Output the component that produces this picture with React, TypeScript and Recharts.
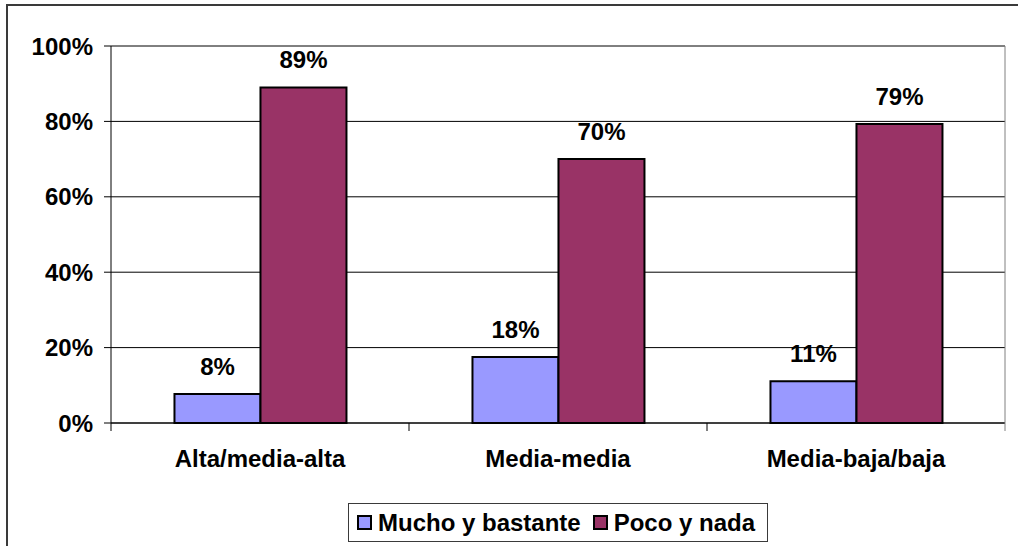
import React from "react";
import {
  BarChart,
  Bar,
  XAxis,
  YAxis,
  CartesianGrid,
  LabelList,
} from "recharts";

const categories = ["Alta/media-alta", "Media-media", "Media-baja/baja"];
const muchoValues = [0.077, 0.175, 0.111];
const pocoValues = [0.89, 0.70, 0.793];
const seriesNames = ["Mucho y bastante", "Poco y nada"];
const seriesColors = ["#9999FF", "#993366"];
const yTicks = [0, 0.2, 0.4, 0.6, 0.8, 1];

const data = categories.map((c, i) => ({
  name: c,
  mucho: muchoValues[i],
  poco: pocoValues[i],
}));

const FONT = "'Liberation Sans', Arial, sans-serif";
const FS = 24;

const pct = (v: number) => `${Math.round(v * 100)}%`;

const CategoryTick = (props: any) => {
  const { x, y, payload, index, visibleTicksCount } = props;
  const half =
    typeof payload?.offset === "number" && payload.offset > 0
      ? payload.offset
      : 0;
  const isLast =
    index === (visibleTicksCount ?? categories.length) - 1 ||
    payload.value === categories[categories.length - 1];
  return (
    <g>
      <line x1={x - half} x2={x - half} y1={y} y2={y + 8} stroke="#000" />
      {isLast && (
        <line x1={x + half} x2={x + half} y1={y} y2={y + 8} stroke="#808080" />
      )}
      <text
        x={x}
        y={y + 44}
        textAnchor="middle"
        fontFamily={FONT}
        fontSize={FS}
        fontWeight="bold"
        fill="#000"
      >
        {payload.value}
      </text>
    </g>
  );
};

const labelStyle = {
  fill: "#000",
  fontSize: FS,
  fontWeight: "bold",
  fontFamily: FONT,
};

export default function App() {
  return (
    <div
      style={{
        position: "relative",
        width: 1018,
        height: 546,
        overflow: "hidden",
        background: "#fff",
        fontFamily: FONT,
      }}
    >
      <style>{"body{margin:0;}"}</style>
      <div
        style={{
          position: "absolute",
          left: 6,
          top: 4,
          width: 1100,
          height: 700,
          border: "2px solid #3a3a3a",
          boxSizing: "border-box",
        }}
      />
      <div style={{ position: "absolute", left: 0, top: 0 }}>
        <BarChart
          width={1018}
          height={546}
          data={data}
          margin={{ top: 46, right: 12, left: 0, bottom: 63 }}
          barCategoryGap="21.3%"
          barGap={0}
        >
          <CartesianGrid
            vertical={false}
            stroke="#000"
            strokeWidth={1}
          />
          <XAxis
            dataKey="name"
            height={60}
            interval={0}
            tickSize={0}
            tickMargin={0}
            tickLine={false}
            axisLine={{ stroke: "#000" }}
            tick={<CategoryTick />}
          />
          <YAxis
            width={111}
            domain={[0, 1]}
            ticks={yTicks}
            interval={0}
            tickFormatter={pct}
            tickSize={7}
            tickMargin={11}
            axisLine={{ stroke: "#000" }}
            tickLine={{ stroke: "#000" }}
            tick={labelStyle}
          />
          <YAxis
            yAxisId="r"
            orientation="right"
            width={1}
            domain={[0, 1]}
            tick={false}
            tickLine={false}
            axisLine={{ stroke: "#808080" }}
          />
          <Bar
            dataKey="mucho"
            name={seriesNames[0]}
            fill={seriesColors[0]}
            stroke="#000"
            strokeWidth={2}
            isAnimationActive={false}
          >
            <LabelList
              dataKey="mucho"
              position="top"
              offset={19}
              formatter={(v: any) => pct(Number(v))}
              style={labelStyle}
            />
          </Bar>
          <Bar
            dataKey="poco"
            name={seriesNames[1]}
            fill={seriesColors[1]}
            stroke="#000"
            strokeWidth={2}
            isAnimationActive={false}
          >
            <LabelList
              dataKey="poco"
              position="top"
              offset={19}
              formatter={(v: any) => pct(Number(v))}
              style={labelStyle}
            />
          </Bar>
        </BarChart>
      </div>
      <div
        style={{
          position: "absolute",
          left: 348,
          top: 503,
          width: 420,
          height: 39,
          border: "1.5px solid #3a3a3a",
          boxSizing: "border-box",
          display: "flex",
          alignItems: "center",
          paddingLeft: 8,
        }}
      >
        {seriesNames.map((n, i) => (
          <div
            key={n}
            style={{
              display: "flex",
              alignItems: "center",
              marginLeft: i === 0 ? 0 : 12,
            }}
          >
            <div
              style={{
                width: 15,
                height: 15,
                background: seriesColors[i],
                border: "2px solid #000",
                boxSizing: "border-box",
                marginRight: 6,
              }}
            />
            <span
              style={{
                fontSize: FS,
                fontWeight: "bold",
                color: "#000",
                lineHeight: "26px",
                whiteSpace: "nowrap",
              }}
            >
              {n}
            </span>
          </div>
        ))}
      </div>
    </div>
  );
}
